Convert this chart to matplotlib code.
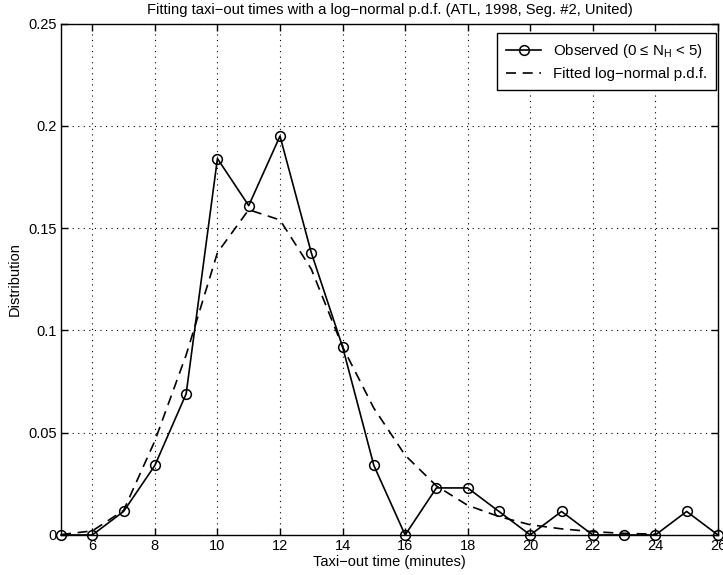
import matplotlib
matplotlib.use("Agg")
import matplotlib.pyplot as plt

plt.rcParams['font.family'] = ['Liberation Sans', 'DejaVu Sans']
plt.rcParams['mathtext.fontset'] = 'custom'
plt.rcParams['mathtext.rm'] = 'Liberation Sans'
plt.rcParams['mathtext.it'] = 'Liberation Sans'

minutes = [5, 6, 7, 8, 9, 10, 11, 12, 13, 14, 15, 16, 17, 18, 19, 20, 21, 22, 23, 24, 25, 26]
observed = [0, 0, 0.0115, 0.034, 0.069, 0.184, 0.161, 0.195, 0.138, 0.092, 0.034, 0,
            0.023, 0.023, 0.0115, 0, 0.0115, 0, 0, 0, 0.0115, 0]
fit_x = [5, 6, 7, 8, 9, 10, 11, 12, 13, 14, 15, 16, 17, 18, 19, 20, 21, 22, 23, 24]
fitted = [0.0002, 0.002, 0.012, 0.046, 0.088, 0.138, 0.159, 0.154, 0.130, 0.092, 0.062, 0.039,
          0.024, 0.0145, 0.009, 0.005, 0.003, 0.0016, 0.0008, 0.0004]
xticks = [6, 8, 10, 12, 14, 16, 18, 20, 22, 24, 26]
yticks = [0, 0.05, 0.1, 0.15, 0.2, 0.25]
yticklabels = ['0', '0.05', '0.1', '0.15', '0.2', '0.25']

fig = plt.figure(figsize=(7.23, 5.75), dpi=100)
ax = fig.add_axes([0.0844, 0.0696, 0.9086, 0.8894])

ax.plot(minutes, observed, '-', color='black', lw=1.2, marker='o', ms=7,
        mfc='none', mec='black', mew=1.1, label=r'Observed (0 ≤ N$_\mathrm{H}$ < 5)', clip_on=False, zorder=3)
ax.plot(fit_x, fitted, '--', color='black', lw=1.2, dashes=(6, 4), label='Fitted log\u2212normal p.d.f.')

ax.set_xlim(5, 26)
ax.set_ylim(0, 0.25)
ax.set_xticks(xticks)
ax.set_yticks(yticks)
ax.set_yticklabels(yticklabels)
ax.grid(True, color='black', linestyle=(0, (1, 4)), linewidth=0.8)
ax.tick_params(direction='in', top=True, right=True, length=5, labelsize=10.5, width=1, pad=3)
for s in ax.spines.values():
    s.set_linewidth(1.0)

ax.set_xlabel('Taxi\u2212out time (minutes)', fontsize=10.5, labelpad=1)
ax.set_ylabel('Distribution', fontsize=10.5, labelpad=5)
ax.set_title('Fitting taxi\u2212out times with a log\u2212normal p.d.f. (ATL, 1998, Seg. #2, United)',
             fontsize=10.6, pad=7)

leg = ax.legend(loc='upper right', bbox_to_anchor=(716 / 723, 1 - 33 / 575),
                bbox_transform=fig.transFigure, fontsize=10.8, frameon=True, fancybox=False,
                edgecolor='black', framealpha=1, borderaxespad=0, handlelength=2.3,
                handletextpad=0.8, borderpad=0.6, labelspacing=0.45)
leg.get_frame().set_linewidth(1.0)

fig.savefig('out.png', dpi=100)
